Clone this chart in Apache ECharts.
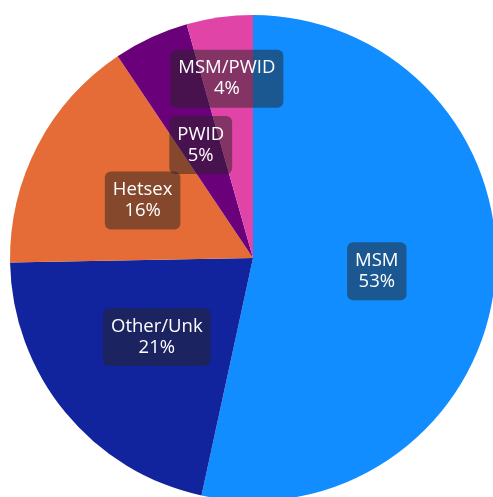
<!DOCTYPE html>
<html>
<head>
<meta charset="utf-8">
<script src="https://cdn.jsdelivr.net/npm/echarts@6/dist/echarts.min.js"></script>
<style>
html,body{margin:0;padding:0;background:#fff;}
#chart{width:493px;height:497px;}
</style>
</head>
<body>
<div id="chart"></div>
<script>
const categories = ['MSM', 'Other/Unk', 'Hetsex', 'PWID', 'MSM/PWID'];
const values = [53.4, 21.3, 15.9, 5.0, 4.4];
const colors = ['#118DFF', '#12239E', '#E66C37', '#6B007B', '#E044A7'];

const chart = echarts.init(document.getElementById('chart'), null, {renderer: 'canvas'});
chart.setOption({
  animation: false,
  series: [{
    type: 'pie',
    center: [253, 258],
    radius: [0, 243],
    startAngle: 90,
    clockwise: true,
    avoidLabelOverlap: false,
    data: categories.map((c, i) => ({name: c, value: values[i], itemStyle: {color: colors[i]}})),
    label: {
      show: true,
      position: 'inside',
      formatter: p => p.name + '\n' + Math.round(p.percent) + '%',
      color: '#ffffff',
      fontFamily: '"Open Sans", sans-serif',
      fontSize: 18.5,
      lineHeight: 21,
      backgroundColor: 'rgba(37,36,35,0.5)',
      borderRadius: 6,
      padding: [8, 8, 8, 8],
      align: 'center'
    },
    labelLine: {show: false},
    labelLayout: function (params) {
      if (params.dataIndex === 4) {
        return {dx: -9, dy: -56};
      }
      return {};
    },
    emphasis: {disabled: true}
  }]
});
</script>
</body>
</html>
